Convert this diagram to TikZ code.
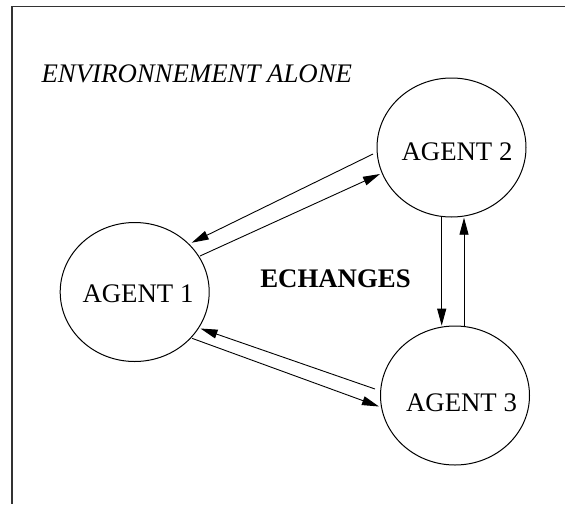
\documentclass[tikz,border=0pt]{standalone}
\usepackage{fontspec}
\setmainfont{Liberation Serif}
\usetikzlibrary{arrows.meta,shapes.geometric}
\begin{document}
\begin{tikzpicture}[x=1pt,y=-1pt,
  agent/.style={draw,line width=1pt,ellipse,minimum width=149pt,minimum height=139pt,inner sep=0pt},
  lbl/.style={inner sep=0pt,font=\fontsize{26.8}{30}\selectfont},
  conn/.style={line width=0.9pt,-{Triangle[length=17pt,width=9pt]}},
  frame/.style={line width=1.5pt,black!80}]
\useasboundingbox (0,0) rectangle (565,504);
\draw[frame] (565,6.5) -- (12,6.5) -- (12,504);
\node[lbl,font=\fontsize{26.8}{30}\selectfont\itshape] (env) at (196.8,74.3) {ENVIRONNEMENT ALONE};
\node[agent] (a1) at (134.7,292) {};
\node[agent] (a2) at (451.5,147.5) {};
\node[agent] (a3) at (455,395.5) {};
\node[lbl] (t1) at (138,294) {AGENT 1};
\node[lbl] (t2) at (457,152) {AGENT 2};
\node[lbl] (t3) at (461.5,402.5) {AGENT 3};
\node[lbl,font=\fontsize{26.8}{30}\selectfont\bfseries] (ech) at (335.5,279) {ECHANGES};
% agent 1 <-> agent 2
\draw[conn] ([shift={(-78.5,6.5)}]a2.center) -- ([shift={(57,-49.3)}]a1.center);
\draw[conn] ([shift={(65.3,-36)}]a1.center) -- ([shift={(-71.5,26.5)}]a2.center);
% agent 2 <-> agent 3
\draw[conn] ([shift={(-9.8,69.8)}]a2.center) -- ([shift={(-13.3,-69.8)}]a3.center);
\draw[conn] ([shift={(9,-69.5)}]a3.center) -- ([shift={(12.5,70.2)}]a2.center);
% agent 3 <-> agent 1
\draw[conn] ([shift={(-80,-6.5)}]a3.center) -- ([shift={(65.8,36.5)}]a1.center);
\draw[conn] ([shift={(57.3,46.3)}]a1.center) -- ([shift={(-76,11)}]a3.center);
\end{tikzpicture}
\end{document}
